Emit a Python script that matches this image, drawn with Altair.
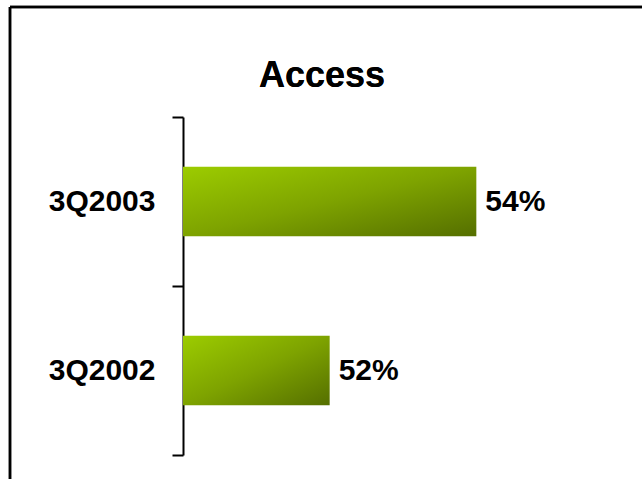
import altair as alt
import pandas as pd

# Data
title_text = "Access"
categories = ["3Q2003", "3Q2002"]
values = [54, 52]
value_labels = ["54%", "52%"]
x_domain = [50, 56]

df = pd.DataFrame({"period": categories, "value": values, "label": value_labels})

FONT = "Liberation Sans"
W, H = 440, 338
PAD_L, PAD_T = 183, 117

gradient = {
    "gradient": "linear",
    "x1": 0, "y1": 0, "x2": 1, "y2": 1,
    "stops": [
        {"offset": 0, "color": "#9ccc00"},
        {"offset": 0.5, "color": "#7ea300"},
        {"offset": 1, "color": "#556f00"},
    ],
}

y_enc = alt.Y(
    "period:N",
    sort=categories,
    scale=alt.Scale(paddingInner=0, paddingOuter=0),
    axis=alt.Axis(
        title=None,
        domainColor="#000000",
        domainWidth=2,
        tickColor="#000000",
        tickWidth=2,
        tickSize=11,
        tickBand="extent",
        labelFont=FONT,
        labelFontSize=30,
        labelFontWeight="bold",
        labelColor="#000000",
        labelPadding=17,
        grid=False,
    ),
)

x_enc = alt.X("value:Q", scale=alt.Scale(domain=x_domain, zero=False, nice=False), axis=None)

bars = alt.Chart(df).mark_bar(color=gradient, height={"band": 0.41}).encode(
    y=y_enc,
    x=x_enc,
    x2=alt.datum(x_domain[0]),
)

text = alt.Chart(df).mark_text(
    align="left", baseline="middle", dx=9,
    font=FONT, fontSize=30, fontWeight="bold", color="#000000",
).encode(
    y=alt.Y("period:N", sort=categories),
    x=alt.X("value:Q"),
    text="label:N",
)

title = alt.Chart(df).mark_text(
    align="center", baseline="alphabetic",
    font=FONT, fontSize=36, fontWeight="bold", color="#000000",
).encode(
    x=alt.value(322 - PAD_L), y=alt.value(87 - PAD_T), text=alt.datum(title_text)
)

frame_top = alt.Chart(df).mark_rule(color="#000000", strokeWidth=2.5).encode(
    x=alt.value(10 - PAD_L), x2=alt.value(700 - PAD_L), y=alt.value(7 - PAD_T)
)
frame_left = alt.Chart(df).mark_rule(color="#000000", strokeWidth=2.5).encode(
    x=alt.value(10 - PAD_L), y=alt.value(7 - PAD_T), y2=alt.value(520 - PAD_T)
)

chart = (
    alt.layer(bars, text, title, frame_top, frame_left)
    .properties(
        width=W,
        height=H,
        autosize=alt.AutoSizeParams(type="none"),
        padding={"left": PAD_L, "top": PAD_T, "right": 642 - PAD_L - W, "bottom": 479 - PAD_T - H},
        background="#ffffff",
    )
    .configure_view(stroke=None)
)

chart.save("out.html", embed_options={"renderer": "svg", "actions": False})
